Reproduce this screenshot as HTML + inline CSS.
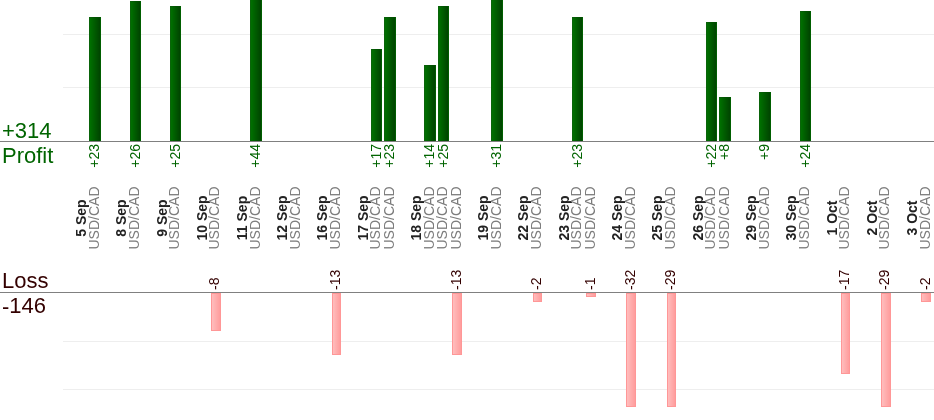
<!DOCTYPE html>
<html><head><meta charset="utf-8"><style>
html,body{margin:0;padding:0;background:#fff;}
body{width:934px;height:420px;position:relative;overflow:hidden;font-family:"Liberation Sans",sans-serif;}
.gl{position:absolute;left:63px;width:871px;height:1px;background:#eeeeee;}
.bl{position:absolute;left:0;width:934px;height:1px;background:#808080;z-index:3;}
.pb{position:absolute;box-sizing:border-box;border-style:solid;border-width:0 1px;border-color:#0a640a #005e00 #0a640a #0a640a;background:linear-gradient(to right,#0b5f0b,#005400 50%,#004a00) top left/100% 1px no-repeat,linear-gradient(to right,#007000 0,#004400 100%);z-index:2;}
.lb{position:absolute;box-sizing:border-box;border:1px solid #ff9797;background:linear-gradient(to right,#ffbdbd 0,#ff9d9d 100%);z-index:2;}
.r{position:absolute;transform-origin:0 0;transform:rotate(-90deg);will-change:transform;white-space:nowrap;font-size:14px;line-height:13.4px;height:13.4px;}
.c{width:200px;text-align:center;}
.e{width:60px;text-align:right;}
.u{color:#7d7d7d;}
.d{color:#222;font-weight:bold;}
.g{color:#006400;}
.m{color:#330000;}
.hy{position:relative;top:0.8px;}
.big{position:absolute;will-change:transform;font-size:22px;line-height:25px;white-space:nowrap;}
</style></head><body>
<div class="gl" style="top:34px"></div>
<div class="gl" style="top:87px"></div>
<div class="gl" style="top:341px"></div>
<div class="gl" style="top:389px"></div>
<div class="bl" style="top:141px"></div>
<div class="bl" style="top:292px"></div>
<div class="big g" style="left:2px;top:118px">+314</div>
<div class="big g" style="left:2.4px;top:142.5px">Profit</div>
<div class="big m" style="left:2px;top:267.6px">Loss</div>
<div class="big m" style="left:2px;top:293.0px"><span class="hy" style="top:0.5px">-</span>146</div>
<div class="r c d" style="left:75.10px;top:318.30px">5 Sep</div>
<div class="r c u" style="left:87.80px;top:318.00px">USD/CAD</div>
<div class="pb" style="left:89px;top:17px;width:12px;height:124px"></div>
<div class="r e g" style="left:88.40px;top:204.00px">+23</div>
<div class="r c d" style="left:115.30px;top:318.30px">8 Sep</div>
<div class="r c u" style="left:128.00px;top:318.00px">USD/CAD</div>
<div class="pb" style="left:130px;top:1px;width:11px;height:140px"></div>
<div class="r e g" style="left:128.60px;top:204.00px">+26</div>
<div class="r c d" style="left:155.50px;top:318.30px">9 Sep</div>
<div class="r c u" style="left:168.20px;top:318.00px">USD/CAD</div>
<div class="pb" style="left:170px;top:6px;width:11px;height:135px"></div>
<div class="r e g" style="left:168.80px;top:204.00px">+25</div>
<div class="r c d" style="left:195.70px;top:318.30px">10 Sep</div>
<div class="r c u" style="left:208.40px;top:318.00px">USD/CAD</div>
<div class="lb" style="left:211px;top:293px;width:10px;height:38px"></div>
<div class="r m" style="left:208.40px;top:289.60px"><span class="hy">-</span>8</div>
<div class="r c d" style="left:235.90px;top:318.30px">11 Sep</div>
<div class="r c u" style="left:248.60px;top:318.00px">USD/CAD</div>
<div class="pb" style="left:250px;top:-96px;width:12px;height:237px"></div>
<div class="r e g" style="left:249.20px;top:204.00px">+44</div>
<div class="r c d" style="left:276.10px;top:318.30px">12 Sep</div>
<div class="r c u" style="left:288.80px;top:318.00px">USD/CAD</div>
<div class="r c d" style="left:316.30px;top:318.30px">16 Sep</div>
<div class="r c u" style="left:329.00px;top:318.00px">USD/CAD</div>
<div class="lb" style="left:332px;top:293px;width:9px;height:62px"></div>
<div class="r m" style="left:329.00px;top:289.60px"><span class="hy">-</span>13</div>
<div class="r c d" style="left:356.50px;top:318.30px">17 Sep</div>
<div class="r c u" style="left:369.20px;top:318.00px">USD/CAD</div>
<div class="pb" style="left:371px;top:49px;width:11px;height:92px"></div>
<div class="r e g" style="left:369.80px;top:204.00px">+17</div>
<div class="r c u" style="left:382.60px;top:318.00px">USD/CAD</div>
<div class="pb" style="left:384px;top:17px;width:12px;height:124px"></div>
<div class="r e g" style="left:383.20px;top:204.00px">+23</div>
<div class="r c d" style="left:410.10px;top:318.30px">18 Sep</div>
<div class="r c u" style="left:422.80px;top:318.00px">USD/CAD</div>
<div class="pb" style="left:424px;top:65px;width:12px;height:76px"></div>
<div class="r e g" style="left:423.40px;top:204.00px">+14</div>
<div class="r c u" style="left:436.20px;top:318.00px">USD/CAD</div>
<div class="pb" style="left:438px;top:6px;width:11px;height:135px"></div>
<div class="r e g" style="left:436.80px;top:204.00px">+25</div>
<div class="r c u" style="left:449.60px;top:318.00px">USD/CAD</div>
<div class="lb" style="left:452px;top:293px;width:10px;height:62px"></div>
<div class="r m" style="left:449.60px;top:289.60px"><span class="hy">-</span>13</div>
<div class="r c d" style="left:477.10px;top:318.30px">19 Sep</div>
<div class="r c u" style="left:489.80px;top:318.00px">USD/CAD</div>
<div class="pb" style="left:491px;top:-26px;width:12px;height:167px"></div>
<div class="r e g" style="left:490.40px;top:204.00px">+31</div>
<div class="r c d" style="left:517.30px;top:318.30px">22 Sep</div>
<div class="r c u" style="left:530.00px;top:318.00px">USD/CAD</div>
<div class="lb" style="left:533px;top:293px;width:9px;height:9px"></div>
<div class="r m" style="left:530.00px;top:289.60px"><span class="hy">-</span>2</div>
<div class="r c d" style="left:557.50px;top:318.30px">23 Sep</div>
<div class="r c u" style="left:570.20px;top:318.00px">USD/CAD</div>
<div class="pb" style="left:572px;top:17px;width:11px;height:124px"></div>
<div class="r e g" style="left:570.80px;top:204.00px">+23</div>
<div class="r c u" style="left:583.60px;top:318.00px">USD/CAD</div>
<div class="lb" style="left:586px;top:293px;width:10px;height:4px"></div>
<div class="r m" style="left:583.60px;top:289.60px"><span class="hy">-</span>1</div>
<div class="r c d" style="left:611.10px;top:318.30px">24 Sep</div>
<div class="r c u" style="left:623.80px;top:318.00px">USD/CAD</div>
<div class="lb" style="left:626px;top:293px;width:10px;height:114px"></div>
<div class="r m" style="left:623.80px;top:289.60px"><span class="hy">-</span>32</div>
<div class="r c d" style="left:651.30px;top:318.30px">25 Sep</div>
<div class="r c u" style="left:664.00px;top:318.00px">USD/CAD</div>
<div class="lb" style="left:667px;top:293px;width:9px;height:114px"></div>
<div class="r m" style="left:664.00px;top:289.60px"><span class="hy">-</span>29</div>
<div class="r c d" style="left:691.50px;top:318.30px">26 Sep</div>
<div class="r c u" style="left:704.20px;top:318.00px">USD/CAD</div>
<div class="pb" style="left:706px;top:22px;width:11px;height:119px"></div>
<div class="r e g" style="left:704.80px;top:204.00px">+22</div>
<div class="r c u" style="left:717.60px;top:318.00px">USD/CAD</div>
<div class="pb" style="left:719px;top:97px;width:12px;height:44px"></div>
<div class="r e g" style="left:718.20px;top:204.00px">+8</div>
<div class="r c d" style="left:745.10px;top:318.30px">29 Sep</div>
<div class="r c u" style="left:757.80px;top:318.00px">USD/CAD</div>
<div class="pb" style="left:759px;top:92px;width:12px;height:49px"></div>
<div class="r e g" style="left:758.40px;top:204.00px">+9</div>
<div class="r c d" style="left:785.30px;top:318.30px">30 Sep</div>
<div class="r c u" style="left:798.00px;top:318.00px">USD/CAD</div>
<div class="pb" style="left:800px;top:11px;width:11px;height:130px"></div>
<div class="r e g" style="left:798.60px;top:204.00px">+24</div>
<div class="r c d" style="left:825.50px;top:318.30px">1 Oct</div>
<div class="r c u" style="left:838.20px;top:318.00px">USD/CAD</div>
<div class="lb" style="left:841px;top:293px;width:9px;height:81px"></div>
<div class="r m" style="left:838.20px;top:289.60px"><span class="hy">-</span>17</div>
<div class="r c d" style="left:865.70px;top:318.30px">2 Oct</div>
<div class="r c u" style="left:878.40px;top:318.00px">USD/CAD</div>
<div class="lb" style="left:881px;top:293px;width:10px;height:114px"></div>
<div class="r m" style="left:878.40px;top:289.60px"><span class="hy">-</span>29</div>
<div class="r c d" style="left:905.90px;top:318.30px">3 Oct</div>
<div class="r c u" style="left:918.60px;top:318.00px">USD/CAD</div>
<div class="lb" style="left:921px;top:293px;width:10px;height:9px"></div>
<div class="r m" style="left:918.60px;top:289.60px"><span class="hy">-</span>2</div>
</body></html>
